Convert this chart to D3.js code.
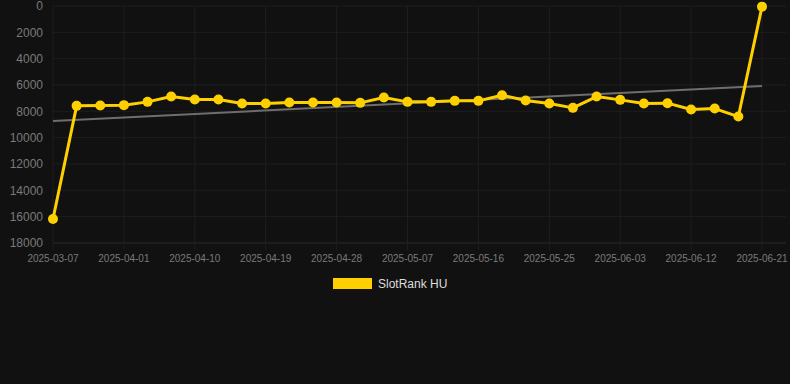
<html>
<head>
<meta charset="UTF-8">
<title>SlotRank HU</title>
<style>
  body { margin: 0; background: #111111; }
  svg { display: block; }
</style>
</head>
<body>
<script src="https://d3js.org/d3.v7.min.js"></script>
<script>
// ranking data, lower is better (axis is flipped)
const dates = ["2025-03-07", "2025-03-26", "2025-03-29", "2025-04-01", "2025-04-04", "2025-04-07",
  "2025-04-10", "2025-04-13", "2025-04-16", "2025-04-19", "2025-04-22", "2025-04-25",
  "2025-04-28", "2025-05-01", "2025-05-04", "2025-05-07", "2025-05-10", "2025-05-13",
  "2025-05-16", "2025-05-19", "2025-05-22", "2025-05-25", "2025-05-28", "2025-05-31",
  "2025-06-03", "2025-06-06", "2025-06-09", "2025-06-12", "2025-06-15", "2025-06-18", "2025-06-21"]
const ranks = [16180, 7584, 7562, 7531, 7281, 6879, 7107, 7107, 7410, 7410, 7334, 7334,
  7334, 7357, 6955, 7281, 7281, 7205, 7205, 6773, 7182, 7410, 7736, 6879,
  7129, 7410, 7380, 7865, 7789, 8396, 50]
const yTicks = [0, 2000, 4000, 6000, 8000, 10000, 12000, 14000, 16000, 18000]
const seriesName = "SlotRank HU"

const width = 790, height = 384
const padLeft = 53, padRight = 762, plotRight = 786, padTop = 6, padBottom = 243

let svg = d3.select("body").append("svg")
  .attr("width", width)
  .attr("height", height)

svg.append("rect").attr("width", width).attr("height", height).attr("fill", "#111111")

let x = d3.scalePoint().domain(dates).range([padLeft, padRight])
let y = d3.scaleLinear().domain([0, 18000]).range([padTop, padBottom])

// horizontal grid
svg.append("g").selectAll("line")
  .data(yTicks).enter()
  .append("line")
  .attr("x1", padLeft).attr("x2", plotRight)
  .attr("y1", d => y(d)).attr("y2", d => y(d))
  .attr("stroke", d => d == 18000 ? "#2a2a2a" : "#1e1e1e")
  .attr("stroke-width", 1)

// vertical grid every third date
let shownDates = dates.filter((d, i) => i % 3 == 0)
svg.append("g").selectAll("line")
  .data(shownDates).enter()
  .append("line")
  .attr("x1", d => x(d)).attr("x2", d => x(d))
  .attr("y1", padTop).attr("y2", padBottom + 7)
  .attr("stroke", "#1e1e1e")
  .attr("stroke-width", 1)

// y labels
svg.append("g").selectAll("text")
  .data(yTicks).enter()
  .append("text")
  .attr("x", 43)
  .attr("y", d => y(d))
  .attr("dy", "0.35em")
  .attr("text-anchor", "end")
  .attr("fill", "#7a7a7a")
  .attr("font-family", "Liberation Sans, Arial, sans-serif")
  .attr("font-size", 12)
  .text(d => d)

// x labels
svg.append("g").selectAll("text")
  .data(shownDates).enter()
  .append("text")
  .attr("x", d => x(d))
  .attr("y", 262)
  .attr("text-anchor", "middle")
  .attr("fill", "#7a7a7a")
  .attr("font-family", "Liberation Sans, Arial, sans-serif")
  .attr("font-size", 10)
  .text(d => d)

// linear trend (least squares over index)
let n = ranks.length
let mx = d3.mean(ranks, (d, i) => i)
let my = d3.mean(ranks)
let sxy = d3.sum(ranks, (d, i) => (i - mx) * (d - my))
let sxx = d3.sum(ranks, (d, i) => (i - mx) * (i - mx))
let slope = sxy / sxx
let icpt = my - slope * mx
let trend = [0, n - 1].map(i => [x(dates[i]), y(icpt + slope * i)])

svg.append("path")
  .attr("d", d3.line()(trend))
  .attr("stroke", "#6e6e6e")
  .attr("stroke-width", 2)
  .attr("fill", "none")

// series line
let line = d3.line()
  .x((d, i) => x(dates[i]))
  .y(d => y(d))

svg.append("path")
  .datum(ranks)
  .attr("d", line)
  .attr("stroke", "#FFD000")
  .attr("stroke-width", 3)
  .attr("stroke-linejoin", "round")
  .attr("fill", "none")

svg.append("g").selectAll("circle")
  .data(ranks).enter()
  .append("circle")
  .attr("cx", (d, i) => x(dates[i]))
  .attr("cy", d => y(d))
  .attr("r", 5)
  .attr("fill", "#FFD000")

// legend
svg.append("rect")
  .attr("x", 333).attr("y", 278)
  .attr("width", 39).attr("height", 11)
  .attr("fill", "#FFD000")

svg.append("text")
  .attr("x", 378).attr("y", 284)
  .attr("dy", "0.35em")
  .attr("fill", "#dddddd")
  .attr("font-family", "Liberation Sans, Arial, sans-serif")
  .attr("font-size", 12)
  .text(seriesName)
</script>
</body>
</html>
